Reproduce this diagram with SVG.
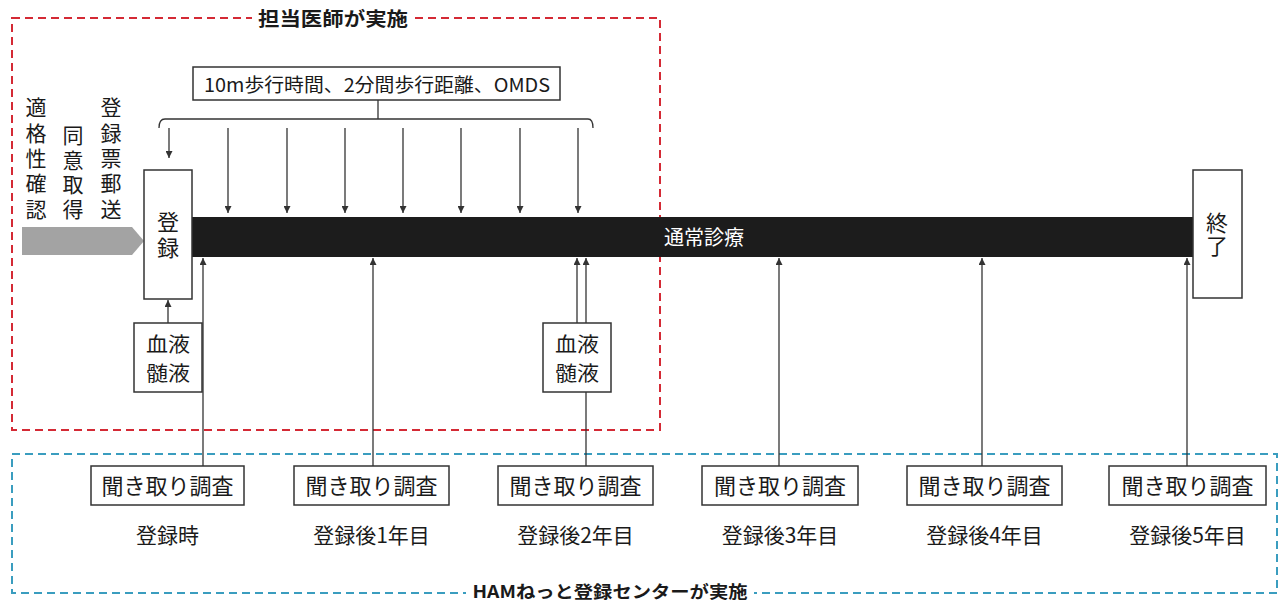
<svg xmlns="http://www.w3.org/2000/svg" width="1285" height="603" viewBox="0 0 1285 603">
<defs>
<style>
.t{font-family:"Noto Sans CJK JP","Noto Sans",sans-serif;fill:#1a1a1a;}
.v{writing-mode:vertical-rl;}
.box{fill:#fff;stroke:#333;stroke-width:1.5;}
.ln{stroke:#333;stroke-width:1.3;fill:none;}
.red{fill:none;stroke:#d42a35;stroke-width:2;stroke-dasharray:8 5;}
.blue{fill:none;stroke:#3a9dbf;stroke-width:2;stroke-dasharray:8 5;}
</style>
<marker id="ah" viewBox="0 0 10 10" refX="10" refY="5" markerWidth="7" markerHeight="7" markerUnits="userSpaceOnUse" orient="auto">
<path d="M0,0 L10,5 L0,10 z" fill="#333"/>
</marker>
</defs>
<rect width="1285" height="603" fill="#fff"/>

<g id="region-doctor">
<rect class="red" x="12" y="18" width="648" height="412"/>
<rect x="252" y="8" width="162" height="22" fill="#fff"/>
<text class="t" x="333" y="26" font-size="19" font-weight="bold" text-anchor="middle" textLength="150" lengthAdjust="spacingAndGlyphs">担当医師が実施</text>
</g>

<g id="region-center">
<rect class="blue" x="12" y="454" width="1265" height="139"/>
<rect x="466" y="582" width="288" height="20" fill="#fff"/>
<text class="t" x="610" y="598" font-size="17" font-weight="bold" text-anchor="middle" textLength="275" lengthAdjust="spacingAndGlyphs">HAMねっと登録センターが実施</text>
</g>

<g id="connectors">
<path class="ln" d="M378,100 V112 M159,128 Q159,119 165,119 H588 Q593,119 593,128 M378,112 V119"/>
<line class="ln" x1="169" y1="128" x2="169" y2="158" marker-end="url(#ah)"/>
<line class="ln" x1="228" y1="128" x2="228" y2="213" marker-end="url(#ah)"/>
<line class="ln" x1="287" y1="128" x2="287" y2="213" marker-end="url(#ah)"/>
<line class="ln" x1="345" y1="128" x2="345" y2="213" marker-end="url(#ah)"/>
<line class="ln" x1="403" y1="128" x2="403" y2="213" marker-end="url(#ah)"/>
<line class="ln" x1="461" y1="128" x2="461" y2="213" marker-end="url(#ah)"/>
<line class="ln" x1="520" y1="128" x2="520" y2="213" marker-end="url(#ah)"/>
<line class="ln" x1="578" y1="128" x2="578" y2="213" marker-end="url(#ah)"/>
<line class="ln" x1="168" y1="323" x2="168" y2="300" marker-end="url(#ah)"/>
<line class="ln" x1="203" y1="466" x2="203" y2="258" marker-end="url(#ah)"/>
<line class="ln" x1="373" y1="466" x2="373" y2="258" marker-end="url(#ah)"/>
<line class="ln" x1="577" y1="323" x2="577" y2="258" marker-end="url(#ah)"/>
<line class="ln" x1="586" y1="466" x2="586" y2="258" marker-end="url(#ah)"/>
<line class="ln" x1="779" y1="466" x2="779" y2="258" marker-end="url(#ah)"/>
<line class="ln" x1="982" y1="466" x2="982" y2="258" marker-end="url(#ah)"/>
<line class="ln" x1="1187" y1="466" x2="1187" y2="258" marker-end="url(#ah)"/>
</g>

<g id="tests">
<rect class="box" x="193" y="67" width="367" height="33"/>
<text class="t" x="377" y="92" font-size="19" text-anchor="middle" textLength="346" lengthAdjust="spacingAndGlyphs">10m歩行時間、2分間歩行距離、OMDS</text>
</g>

<g id="pre-steps">
<text class="t v" x="36" y="97" font-size="21" letter-spacing="4.3">適格性確認</text>
<text class="t v" x="73" y="125" font-size="21" letter-spacing="3.5">同意取得</text>
<text class="t v" x="111" y="97" font-size="21" letter-spacing="4.3">登録票郵送</text>
<path d="M22,227 H132 L144,241 L132,255 H22 z" fill="#a3a3a3"/>
</g>

<g id="normal-care">
<rect x="192" y="217" width="1001" height="40" fill="#1c1c1c"/>
<text x="704" y="245" font-size="20" text-anchor="middle" style="font-family:'Noto Sans CJK JP','Noto Sans',sans-serif;fill:#fff">通常診療</text>
</g>

<g id="register">
<rect class="box" x="144" y="170" width="48" height="129"/>
<text class="t v" x="168" y="211" font-size="22" letter-spacing="4">登録</text>
</g>

<g id="end">
<rect class="box" x="1193" y="170" width="49" height="128"/>
<text class="t v" x="1217" y="212" font-size="22" letter-spacing="1">終了</text>
</g>

<g id="sample-1">
<rect class="box" x="134" y="323" width="68" height="69"/>
<text class="t" x="168" y="352" font-size="20" text-anchor="middle" textLength="44" lengthAdjust="spacingAndGlyphs">血液</text>
<text class="t" x="168" y="381" font-size="20" text-anchor="middle" textLength="44" lengthAdjust="spacingAndGlyphs">髄液</text>
</g>

<g id="sample-2">
<rect class="box" x="543" y="323" width="68" height="69"/>
<text class="t" x="577" y="352" font-size="20" text-anchor="middle" textLength="44" lengthAdjust="spacingAndGlyphs">血液</text>
<text class="t" x="577" y="381" font-size="20" text-anchor="middle" textLength="44" lengthAdjust="spacingAndGlyphs">髄液</text>
</g>

<g id="survey-0">
<rect class="box" x="91" y="466" width="153" height="39"/>
<text class="t" x="167.5" y="494" font-size="22" text-anchor="middle">聞き取り調査</text>
<text class="t" x="167.5" y="543" font-size="21" text-anchor="middle">登録時</text>
</g>
<g id="survey-1">
<rect class="box" x="294" y="466" width="155" height="39"/>
<text class="t" x="371.5" y="494" font-size="22" text-anchor="middle">聞き取り調査</text>
<text class="t" x="371.5" y="543" font-size="21" text-anchor="middle">登録後1年目</text>
</g>
<g id="survey-2">
<rect class="box" x="498" y="466" width="155" height="39"/>
<text class="t" x="575.5" y="494" font-size="22" text-anchor="middle">聞き取り調査</text>
<text class="t" x="575.5" y="543" font-size="21" text-anchor="middle">登録後2年目</text>
</g>
<g id="survey-3">
<rect class="box" x="702" y="466" width="156" height="39"/>
<text class="t" x="780" y="494" font-size="22" text-anchor="middle">聞き取り調査</text>
<text class="t" x="780" y="543" font-size="21" text-anchor="middle">登録後3年目</text>
</g>
<g id="survey-4">
<rect class="box" x="907" y="466" width="155" height="39"/>
<text class="t" x="984.5" y="494" font-size="22" text-anchor="middle">聞き取り調査</text>
<text class="t" x="984.5" y="543" font-size="21" text-anchor="middle">登録後4年目</text>
</g>
<g id="survey-5">
<rect class="box" x="1109" y="466" width="157" height="39"/>
<text class="t" x="1187.5" y="494" font-size="22" text-anchor="middle">聞き取り調査</text>
<text class="t" x="1187.5" y="543" font-size="21" text-anchor="middle">登録後5年目</text>
</g>
</svg>
